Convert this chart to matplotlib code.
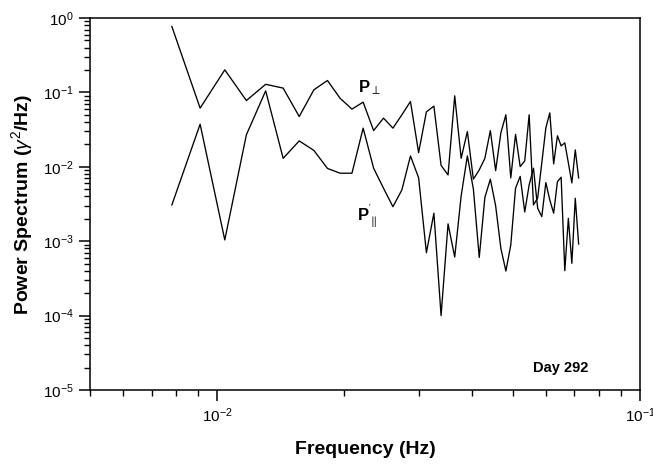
import matplotlib
matplotlib.use("Agg")
import matplotlib.pyplot as plt
from matplotlib.ticker import LogLocator, NullFormatter

plt.rcParams['font.family'] = ['Liberation Sans', 'DejaVu Sans']
plt.rcParams['mathtext.fontset'] = 'custom'
plt.rcParams['mathtext.rm'] = 'Liberation Sans'
plt.rcParams['mathtext.it'] = 'Liberation Sans:italic'
plt.rcParams['mathtext.bf'] = 'Liberation Sans:bold'

# frequency bins (Hz)
freq = [0.00781, 0.00911, 0.01042, 0.01172, 0.01302, 0.01432, 0.01563, 0.01693,
        0.01823, 0.01953, 0.02083, 0.02214, 0.02344, 0.02474, 0.02604, 0.02734,
        0.02865, 0.02995, 0.03125, 0.03255, 0.03385, 0.03516, 0.03646, 0.03776,
        0.03906, 0.04036, 0.04167, 0.04297, 0.04427, 0.04557, 0.04688, 0.04818,
        0.04948, 0.05078, 0.05208, 0.05339, 0.05469, 0.05599, 0.05729, 0.05859,
        0.05990, 0.06120, 0.06250, 0.06380, 0.06510, 0.06641, 0.06771, 0.06901,
        0.07031, 0.07161]

# perpendicular power
p_perp = [0.77, 0.0615, 0.201, 0.0778, 0.1285, 0.1143, 0.0474, 0.1084,
          0.1446, 0.0833, 0.0596, 0.0740, 0.0307, 0.0451, 0.0331, 0.0500,
          0.0755, 0.0155, 0.0548, 0.0654, 0.01045, 0.00778, 0.0900, 0.0130,
          0.0298, 0.00681, 0.00908, 0.0130, 0.0307, 0.00889, 0.0286, 0.0500,
          0.00709, 0.0273, 0.01007, 0.0120, 0.0500, 0.00307, 0.00381, 0.01128,
          0.0334, 0.0531, 0.01094, 0.0261, 0.0191, 0.0210, 0.0113, 0.00607,
          0.01688, 0.00709]

# parallel power
p_par = [0.00307, 0.0374, 0.00104, 0.0269, 0.105, 0.0130, 0.0223, 0.0166,
         0.00951, 0.00820, 0.00820, 0.0331, 0.00958, 0.00515, 0.00291, 0.00489,
         0.0140, 0.00713, 0.000700, 0.00238, 0.000100, 0.00171, 0.000612, 0.00406,
         0.0140, 0.00504, 0.000605, 0.00388, 0.00681, 0.00298, 0.000802, 0.000397,
         0.000889, 0.00515, 0.00743, 0.00247, 0.00571, 0.00958, 0.00277, 0.00214,
         0.00613, 0.00358, 0.00238, 0.00632, 0.00724, 0.000401, 0.00203, 0.000504,
         0.00378, 0.000917]

fig = plt.figure(figsize=(6.53, 4.68), dpi=100)
ax = fig.add_axes([0.1378, 0.1667, 0.8422, 0.7948])

ax.plot(freq, p_perp, color='black', lw=0.95)
ax.plot(freq, p_par, color='black', lw=0.95)

ax.set_xscale('log')
ax.set_yscale('log')
ax.set_xlim(0.005, 0.1)
ax.set_ylim(1e-5, 1e0)

ax.yaxis.set_major_locator(LogLocator(base=10, numticks=10))
ax.yaxis.set_minor_locator(LogLocator(base=10, subs=range(2, 10), numticks=20))
ax.yaxis.set_minor_formatter(NullFormatter())
ax.xaxis.set_minor_formatter(NullFormatter())

ax.tick_params(which='both', direction='out', top=False, right=False, labelsize=11)
ax.tick_params(which='major', length=8, width=1.1)
ax.tick_params(which='minor', length=4.5, width=1.0)
for s in ax.spines.values():
    s.set_linewidth(1.1)

ax.set_xlabel('Frequency (Hz)', fontsize=14, fontweight='bold', labelpad=12)
ax.set_ylabel(r'Power Spectrum ($\gamma^2$/Hz)', fontsize=14, fontweight='bold', labelpad=6)

ax.text(0.0229, 0.115, r'$\mathbf{P}_{\perp}$', fontsize=12, ha='center', va='center')
ax.text(0.0226, 0.0022, r"$\mathbf{P}_{\parallel}^{'}$", fontsize=12, ha='center', va='center')
ax.text(0.855, 0.06, 'Day 292', transform=ax.transAxes, fontsize=10.5,
        fontweight='bold', ha='center', va='center')

fig.savefig('out.png', dpi=100)
